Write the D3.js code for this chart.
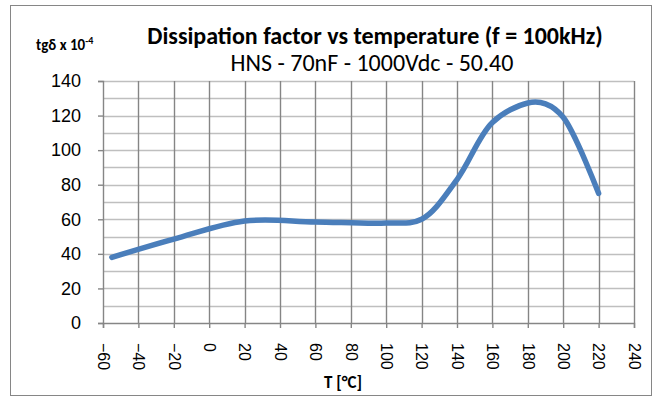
<!DOCTYPE html>
<html lang="en">
<head>
    <meta charset="UTF-8">
    <title>Dissipation factor vs temperature</title>
    <script src="https://d3js.org/d3.v7.min.js"></script>
    <style>
        body { margin: 0; background: #fff; }
        svg { display: block; font-family: Carlito, Calibri, 'Liberation Sans', Arial, sans-serif; }
    </style>
</head>
<body>
    <svg width="654" height="398"></svg>
    <script>
        // data
        const temps = [-55, -20, 20, 60, 100, 120, 140, 160, 180, 190, 200, 220];
        const tgd = [38, 48.5, 59, 58.5, 57.8, 60, 83, 116, 127.3, 126.8, 119, 75];
        const xTicks = [-60, -40, -20, 0, 20, 40, 60, 80, 100, 120, 140, 160, 180, 200, 220, 240];
        const yTicks = [0, 20, 40, 60, 80, 100, 120, 140];
        const yMinor = [10, 30, 50, 70, 90, 110, 130];

        const svg = d3.select('svg');
        const margin = { top: 81, right: 20, bottom: 75, left: 103 };
        const width = 634 - margin.left;
        const height = 323 - margin.top;

        // outer frame
        svg.append('rect')
            .attr('x', 10.5).attr('y', 5.5)
            .attr('width', 641).attr('height', 390)
            .attr('fill', '#fff').attr('stroke', '#868686');

        const g = svg.append('g').attr('transform', `translate(${margin.left},${margin.top})`);
        const x = d3.scaleLinear().domain([-60, 240]).range([0, width]);
        const y = d3.scaleLinear().domain([0, 140]).range([height, 0]);

        // horizontal grid (minor + major)
        g.append('g').selectAll('line')
            .data(yMinor.concat(yTicks.slice(1)))
            .enter().append('line')
            .attr('x1', 0).attr('x2', width)
            .attr('y1', d => Math.round(y(d)) + 0.5).attr('y2', d => Math.round(y(d)) + 0.5)
            .attr('stroke', '#bfbfbf').attr('stroke-width', 1.3);

        // vertical grid
        g.append('g').selectAll('line')
            .data(xTicks.slice(1))
            .enter().append('line')
            .attr('x1', d => Math.round(x(d)) + 0.5).attr('x2', d => Math.round(x(d)) + 0.5)
            .attr('y1', 0).attr('y2', height)
            .attr('stroke', '#858585').attr('stroke-width', 1.4);

        // axes
        const yAxis = g.append('g')
            .call(d3.axisLeft(y).tickValues(yTicks).tickSize(5).tickPadding(17));
        const xAxis = g.append('g')
            .attr('transform', `translate(0,${height})`)
            .call(d3.axisBottom(x).tickValues(xTicks).tickSize(5).tickPadding(0));
        [yAxis, xAxis].forEach(a => {
            a.select('.domain').attr('stroke', '#868686').attr('stroke-width', 1.4);
            a.selectAll('.tick line').attr('stroke', '#868686').attr('stroke-width', 1.4);
            a.selectAll('text').attr('fill', '#000').style('font-family', 'inherit');
        });
        yAxis.selectAll('text').style('font-size', '18px');
        xAxis.selectAll('text')
            .style('font-size', '16px')
            .attr('transform', 'rotate(90)')
            .attr('text-anchor', 'start')
            .attr('x', 20).attr('y', 0).attr('dy', '0.35em');

        // curve
        const line = d3.line()
            .x((d, i) => x(temps[i]))
            .y(d => y(d))
            .curve(d3.curveCatmullRom.alpha(0.5));
        g.append('path')
            .datum(tgd)
            .attr('d', line)
            .attr('fill', 'none')
            .attr('stroke', '#4a7ebb')
            .attr('stroke-width', 5.5)
            .attr('stroke-linecap', 'round')
            .attr('stroke-linejoin', 'round');

        // titles
        svg.append('text')
            .attr('x', 375).attr('y', 44)
            .attr('text-anchor', 'middle')
            .style('font-size', '24px').style('font-weight', 'bold')
            .text('Dissipation factor vs temperature (f = 100kHz)');
        svg.append('text')
            .attr('x', 372).attr('y', 71)
            .attr('text-anchor', 'middle')
            .style('font-size', '24px')
            .text('HNS - 70nF - 1000Vdc - 50.40');
        const yt = svg.append('text')
            .attr('x', 36).attr('y', 50)
            .style('font-size', '15px').style('font-weight', 'bold');
        yt.append('tspan').text('tgδ x 10');
        yt.append('tspan').attr('dy', -6).style('font-size', '10px').text('-4');
        svg.append('text')
            .attr('x', 343).attr('y', 388)
            .attr('text-anchor', 'middle')
            .style('font-size', '17px').style('font-weight', 'bold')
            .text('T [°C]');
    </script>
</body>
</html>
